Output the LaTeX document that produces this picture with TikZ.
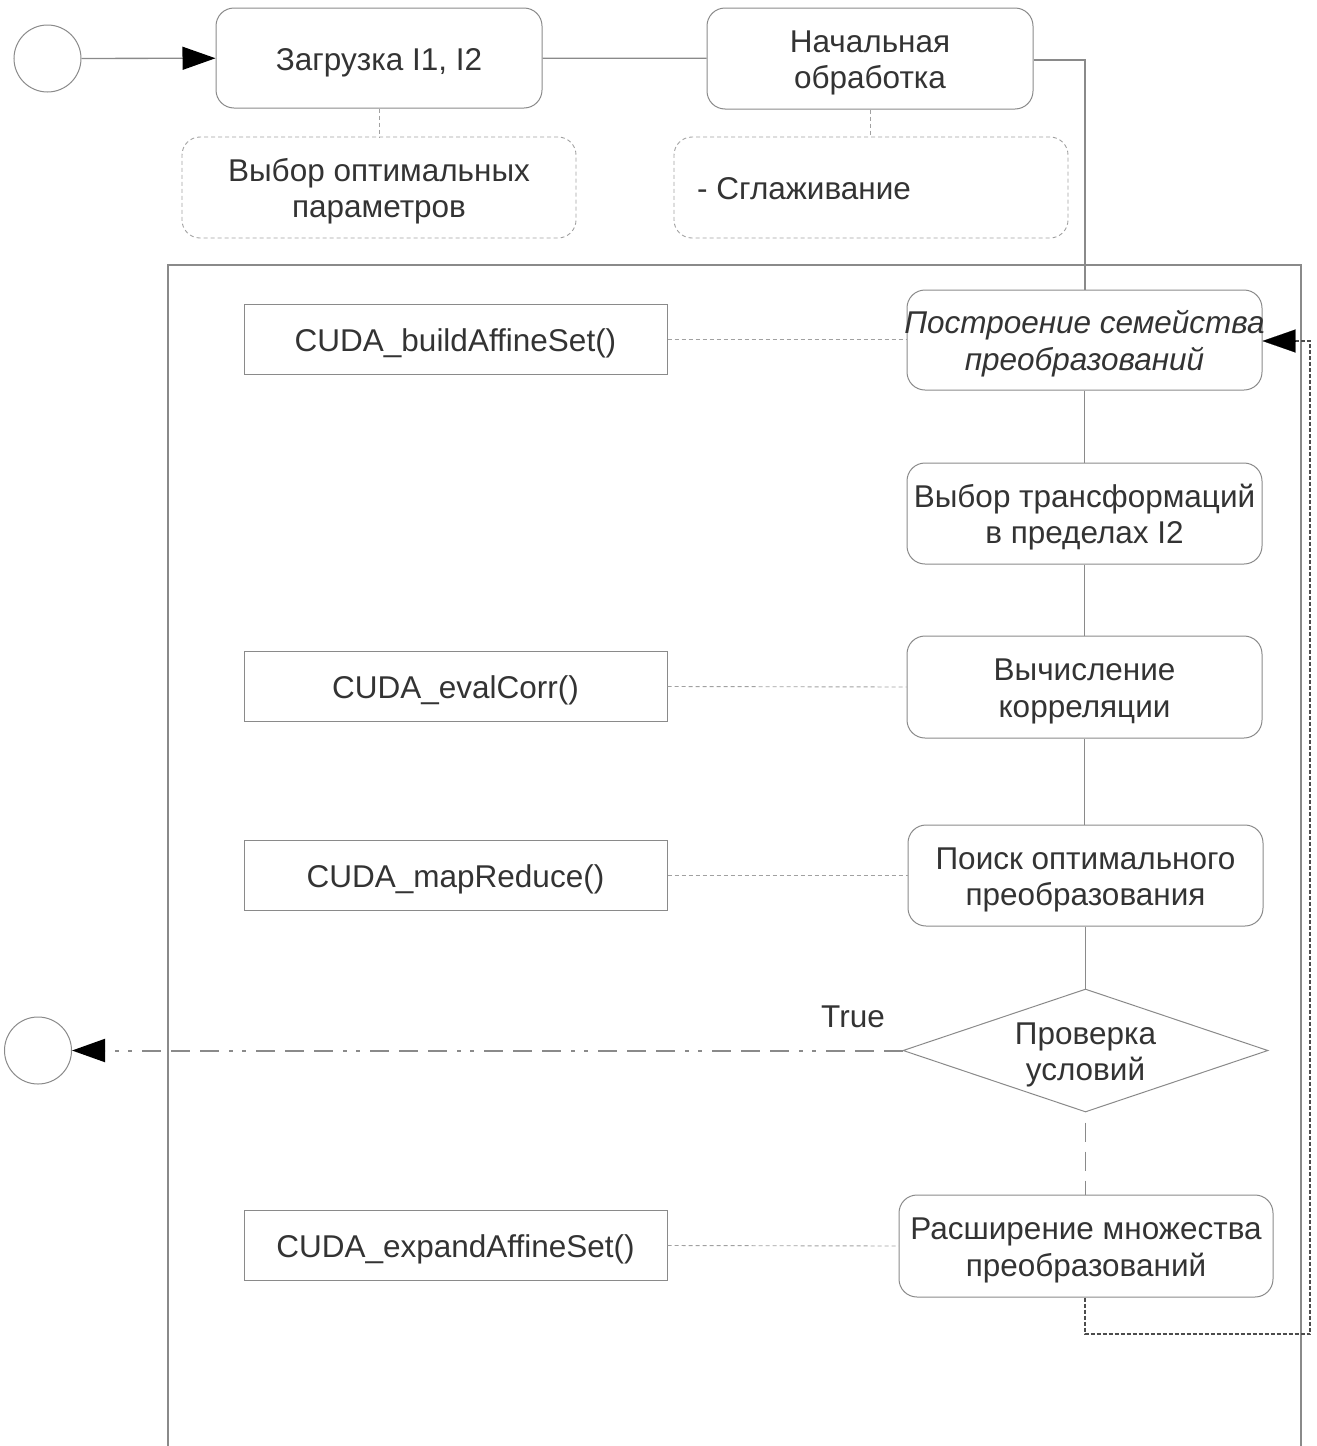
\documentclass[tikz,border=0pt]{standalone}
\usepackage{fontspec}
\setmainfont{Liberation Sans}
\usetikzlibrary{arrows.meta,shapes.geometric}
\definecolor{lg}{HTML}{8A8A8A}
\definecolor{tx}{HTML}{333333}
\newcommand{\tallstrut}{\rule{0pt}{31pt}}
\begin{document}
\begin{tikzpicture}[x=1pt,y=-1pt,
  every node/.style={text=tx,font=\fontsize{31.5}{36.5}\selectfont},
  act/.style={draw=lg,line width=1pt,rounded corners=18pt,align=center,inner sep=0pt},
  note/.style={draw=lg!80,line width=0.9pt,dash pattern=on 4pt off 3pt,rounded corners=18pt,inner sep=0pt},
  cuda/.style={draw=lg,line width=1pt,align=center,inner sep=0pt,minimum width=423pt,minimum height=70pt},
  flow/.style={draw=lg,line width=1.3pt},
  link/.style={draw=lg!80,line width=0.9pt,dash pattern=on 4pt off 3pt},
  loop/.style={draw=black!70,line width=1.2pt,dash pattern=on 4pt off 2pt},
  dd/.style={draw=lg,line width=2pt,dash pattern=on 19pt off 10pt on 19pt off 10pt on 19pt off 10pt on 4pt off 9pt on 4pt off 10pt},
  tip/.style={-{Triangle[length=33pt,width=23pt,color=black,fill=black]}},
  ball/.style={draw=lg,line width=1pt,circle,minimum size=67pt,inner sep=0pt}
]
\useasboundingbox (0,0) rectangle (1317,1446);
% frame
\draw[lg,line width=1.2pt] (168,1446) -- (168,265) -- (1301,265) -- (1301,1446);

\node[ball] (start) at (47.5,58.5) {};
\node[ball] (stop) at (38,1050.5) {};

\node[act,minimum width=326pt,minimum height=100pt] (load) at (379,58) {\tallstrut Загрузка I1, I2};
\node[act,minimum width=326pt,minimum height=101pt] (pre) at (870,58.5) {\tallstrut Начальная\\обработка};
\node[note,minimum width=394pt,minimum height=101pt,align=center] (opt) at (379,187.5) {\tallstrut Выбор оптимальных\\параметров};
\node[note,minimum width=394pt,minimum height=101pt] (smooth) at (871,187.5) {};
\node[anchor=west,inner sep=0pt] (smoothtxt) at (697,189) {- Сглаживание};

\node[act,inner xsep=-10pt,minimum width=355pt,minimum height=100pt,font=\fontsize{31.5}{36.5}\selectfont\itshape] (build) at (1084.5,340) {\tallstrut Построение семейства\\преобразований};
\node[act,minimum width=355pt,minimum height=101pt] (sel) at (1084.5,513.5) {\tallstrut Выбор трансформаций\\в пределах I2};
\node[act,minimum width=355pt,minimum height=102pt] (corr) at (1084.5,687) {\tallstrut Вычисление\\корреляции};
\node[act,minimum width=355pt,minimum height=101pt] (find) at (1085.5,875.5) {\tallstrut Поиск оптимального\\преобразования};
\node[draw=lg,line width=1pt,diamond,aspect=2.97,inner sep=0pt,minimum width=365pt,minimum height=123pt,align=center] (chk) at (1085.5,1050.5) {\tallstrut Проверка\\условий};
\node[act,minimum width=374pt,minimum height=102pt] (exp) at (1086,1246) {\tallstrut Расширение множества\\преобразований};

\node[cuda] (c1) at (455.5,339) {\tallstrut CUDA\_buildAffineSet()};
\node[cuda] (c2) at (455.5,686.5) {\tallstrut CUDA\_evalCorr()};
\node[cuda] (c3) at (455.5,875.5) {\tallstrut CUDA\_mapReduce()};
\node[cuda] (c4) at (455.5,1245.5) {\tallstrut CUDA\_expandAffineSet()};

\node (true) at (853,1017) {True};

% flow
\draw[flow,tip] (start) -- (load);
\draw[flow] (load) -- (pre);
\coordinate (k1) at (1085,60);
\draw[flow] (pre.east |- k1) -- (k1) -- (build.north -| k1);
\draw[flow] (build.south) -- (sel.north);
\draw[flow] (sel.south) -- (corr.north);
\draw[flow] (corr.south) -- (find.north -| corr.south);
\draw[flow] (find.south -| chk.north) -- (chk.north);
\draw[dd,line width=1.5pt,dash phase=-10pt] (chk.south) -- (exp.north -| chk.south);
\draw[dd,tip] (chk.west) -- (stop.east);

% notes
\draw[link] (load.south) -- (opt.north);
\draw[link] (pre.south) -- (smooth.north -| pre.south);
\draw[link] (c1.east) -- (build.west |- c1.east);
\draw[link] (c2.east) -- (corr.west);
\draw[link] (c3.east) -- (find.west);
\draw[link] (c4.east) -- (exp.west);

% loop
\coordinate (l1) at (1085,1334);
\coordinate (l2) at (1310,1334);
\coordinate (l3) at (1310,341);
\draw[loop] (exp.south -| l1) -- (l1) -- (l2) -- (l3) -- ([xshift=30pt]build.east |- l3);
\draw[line width=0.1pt,tip,draw=black] ([xshift=33pt]build.east |- l3) -- (build.east |- l3);
\end{tikzpicture}
\end{document}
